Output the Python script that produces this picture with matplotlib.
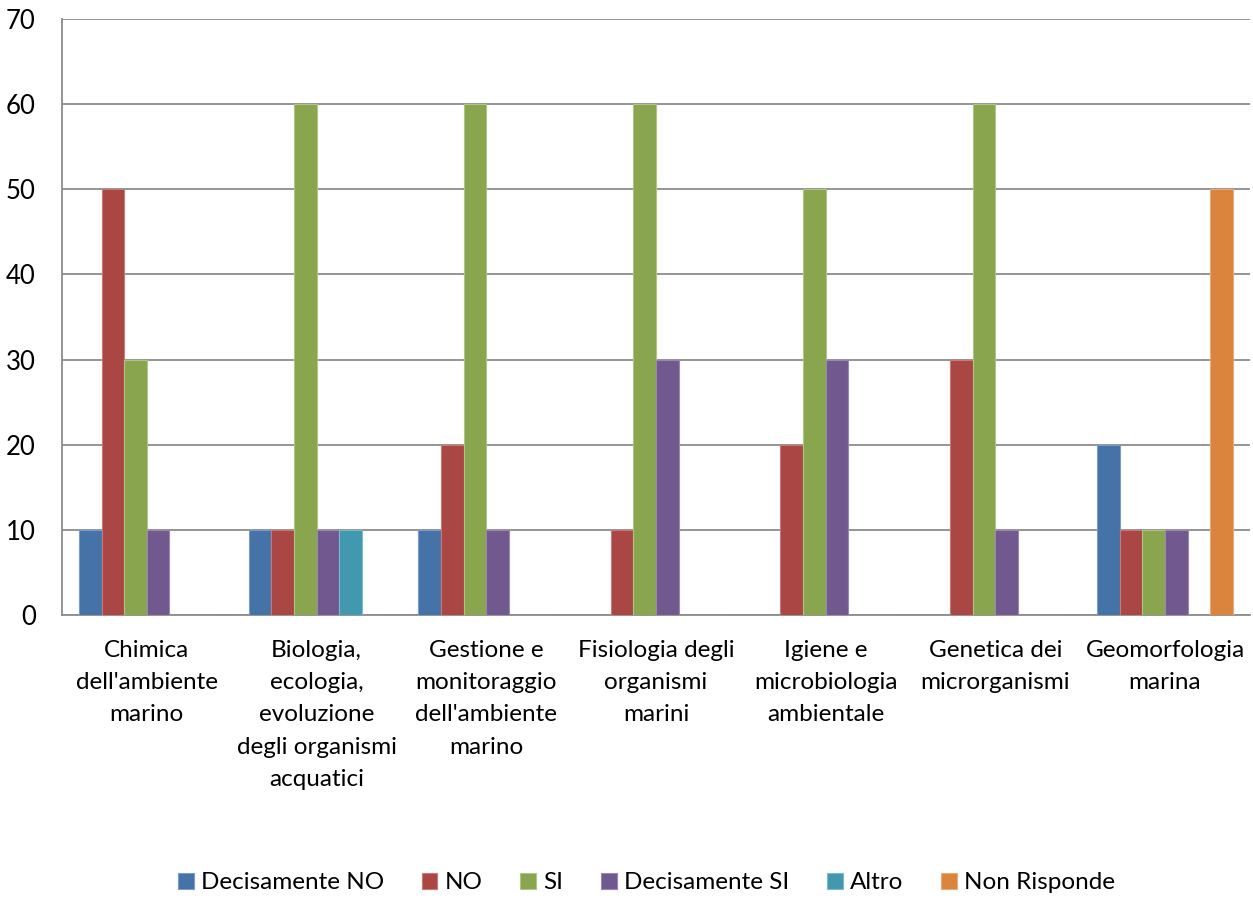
import matplotlib
matplotlib.use("Agg")
from matplotlib import pyplot as plt
import numpy as np

plt.rcParams['font.family'] = ['Lato', 'DejaVu Sans']

categories = ["Chimica\ndell'ambiente\nmarino",
              "Biologia,\necologia,\nevoluzione\ndegli organismi\nacquatici",
              "Gestione e\nmonitoraggio\ndell'ambiente\nmarino",
              "Fisiologia degli\norganismi\nmarini",
              "Igiene e\nmicrobiologia\nambientale",
              "Genetica dei\nmicrorganismi",
              "Geomorfologia\nmarina"]

series_names = ["Decisamente NO", "NO", "SI", "Decisamente SI", "Altro", "Non Risponde"]
decisamente_no = [10, 10, 10, 0, 0, 0, 20]
no = [50, 10, 20, 10, 20, 30, 10]
si = [30, 60, 60, 60, 50, 60, 10]
decisamente_si = [10, 10, 10, 30, 30, 10, 10]
altro = [0, 10, 0, 0, 0, 0, 0]
non_risponde = [0, 0, 0, 0, 0, 0, 50]
yticks = [0, 10, 20, 30, 40, 50, 60, 70]

colors = ['#4572A7', '#AA4643', '#89A54E', '#71588F', '#4198AF', '#DB843D']
edges = ['#7B9CC9', '#C97A78', '#AFC585', '#9A86B3', '#7CBBCB', '#E9AA78']

data = [decisamente_no, no, si, decisamente_si, altro, non_risponde]

fig = plt.figure(figsize=(12.53, 9), dpi=100)
ax = fig.add_axes([0.0495, 0.3167, 0.948, 0.6622])

n = len(series_names)
gap = 1.5
w = 1.0 / (n + gap)
x = np.arange(len(categories))
for i, vals in enumerate(data):
    pos = x - 0.5 + w * gap / 2 + w * (i + 0.5)
    ax.bar(pos, vals, width=w, color=colors[i], edgecolor=edges[i],
           linewidth=0.8, label=series_names[i], zorder=3)

ax.set_xlim(-0.5, len(categories) - 0.5)
ax.set_ylim(0, 70)
ax.set_yticks(yticks)
ax.set_yticklabels([str(t) for t in yticks], fontsize=18.5)
ax.set_xticks(x)
ax.set_xticklabels(categories, fontsize=17.5, linespacing=1.66, va='top')
ax.tick_params(axis='both', length=0)
ax.tick_params(axis='x', pad=18)
ax.tick_params(axis='y', pad=19)

ax.yaxis.grid(True, color='#8C8C8C', linewidth=1.3, zorder=0)
for s in ['top', 'right']:
    ax.spines[s].set_visible(False)
for s in ['left', 'bottom']:
    ax.spines[s].set_color('#8C8C8C')
    ax.spines[s].set_linewidth(1.3)

leg = fig.legend(loc='center', bbox_to_anchor=(0.516, 0.019), ncol=6, frameon=False,
                 fontsize=17.5, handlelength=0.65, handleheight=0.65,
                 handletextpad=0.3, columnspacing=1.55)

fig.savefig("out.png", dpi=100)
